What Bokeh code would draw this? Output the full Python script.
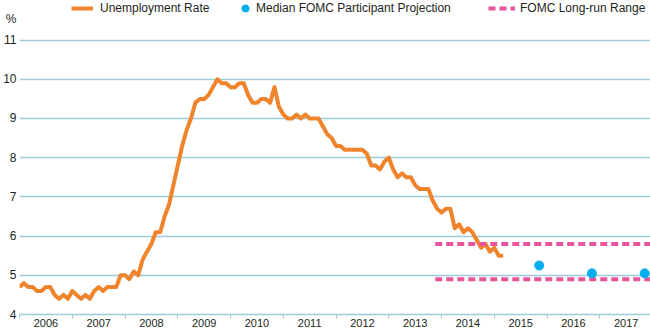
from bokeh.plotting import figure
from bokeh.models import Range1d, FixedTicker, Legend, LegendItem, ColumnDataSource
from bokeh.embed import file_html
from bokeh.resources import INLINE

# Monthly unemployment rate, Jan 2006 - Mar 2015 (%)
unemp = [
    4.7, 4.8, 4.7, 4.7, 4.6, 4.6, 4.7, 4.7, 4.5, 4.4, 4.5, 4.4,   # 2006
    4.6, 4.5, 4.4, 4.5, 4.4, 4.6, 4.7, 4.6, 4.7, 4.7, 4.7, 5.0,   # 2007
    5.0, 4.9, 5.1, 5.0, 5.4, 5.6, 5.8, 6.1, 6.1, 6.5, 6.8, 7.3,   # 2008
    7.8, 8.3, 8.7, 9.0, 9.4, 9.5, 9.5, 9.6, 9.8, 10.0, 9.9, 9.9,  # 2009
    9.8, 9.8, 9.9, 9.9, 9.6, 9.4, 9.4, 9.5, 9.5, 9.4, 9.8, 9.3,   # 2010
    9.1, 9.0, 9.0, 9.1, 9.0, 9.1, 9.0, 9.0, 9.0, 8.8, 8.6, 8.5,   # 2011
    8.3, 8.3, 8.2, 8.2, 8.2, 8.2, 8.2, 8.1, 7.8, 7.8, 7.7, 7.9,   # 2012
    8.0, 7.7, 7.5, 7.6, 7.5, 7.5, 7.3, 7.2, 7.2, 7.2, 6.9, 6.7,   # 2013
    6.6, 6.7, 6.7, 6.2, 6.3, 6.1, 6.2, 6.1, 5.9, 5.7, 5.8, 5.6,   # 2014
    5.7, 5.5, 5.5,                                                # 2015
]
start_year = 2006
months = [start_year + i / 12 for i in range(len(unemp))]

# Median FOMC participant projection (Q4 of each year)
proj_x = [2015.85, 2016.85, 2017.85]
proj_y = [5.25, 5.05, 5.05]

# FOMC long-run range
lr_x = [2013.88, 2017.96]
lr_low = 4.9
lr_high = 5.8

years = list(range(2006, 2018))
y_ticks = [4, 5, 6, 7, 8, 9, 10, 11]
unit_label_pos = 11.55   # where the "%" unit label sits on the y axis

ORANGE = "#f0842c"
CYAN = "#00aeef"
PINK = "#e8559c"
GRID = "#9ccbdc"
TEXT = "#231f20"
FONT = "Liberation Sans"

p = figure(width=650, height=330, output_backend="svg", toolbar_location=None,
           x_range=Range1d(2006, 2017.96), y_range=Range1d(4, 12.01),
           min_border_left=0, min_border_right=0, min_border_top=0, min_border_bottom=16)
p.outline_line_color = None
p.background_fill_color = "white"
p.border_fill_color = "white"

# y axis (the "%" unit label is an extra labelled tick without grid line)
p.yaxis.ticker = FixedTicker(ticks=y_ticks + [unit_label_pos])
p.yaxis.major_label_overrides = {unit_label_pos: "%"}
p.yaxis.axis_line_color = None
p.yaxis.major_tick_line_color = None
p.yaxis.minor_tick_line_color = None
p.yaxis.major_tick_out = 0
p.yaxis.major_tick_in = 0
p.yaxis.major_label_text_font = FONT
p.yaxis.major_label_text_font_size = "12px"
p.yaxis.major_label_text_color = TEXT
p.yaxis.major_label_standoff = 3
p.ygrid.ticker = FixedTicker(ticks=y_ticks)
p.ygrid.grid_line_color = GRID
p.ygrid.grid_line_width = 1.5

# x axis: labels at mid-year, minor ticks at year boundaries
p.xaxis.ticker = FixedTicker(ticks=[y + 0.5 for y in years], minor_ticks=years + [2018])
p.xaxis.major_label_overrides = {y + 0.5: str(y) for y in years}
p.xaxis.major_tick_line_color = None
p.xaxis.major_tick_out = 0
p.xaxis.major_tick_in = 0
p.xaxis.minor_tick_line_color = GRID
p.xaxis.minor_tick_out = 4
p.xaxis.minor_tick_in = 0
p.xaxis.minor_tick_line_width = 1
p.xaxis.axis_line_color = GRID
p.xaxis.axis_line_width = 1.5
p.xaxis.major_label_text_font = FONT
p.xaxis.major_label_text_font_size = "11px"
p.xaxis.major_label_text_color = TEXT
p.xaxis.major_label_standoff = 0
p.xgrid.grid_line_color = None

src = ColumnDataSource(dict(x=months, y=unemp))
r_line = p.line("x", "y", source=src, line_color=ORANGE, line_width=4, line_join="round")

r_lr = p.multi_line(xs=[lr_x, lr_x], ys=[[lr_low, lr_low], [lr_high, lr_high]],
                    line_color=PINK, line_width=4, line_dash="7 4")

r_dots = p.scatter(proj_x, proj_y, size=9, fill_color=CYAN, line_color=CYAN)

def mk_legend(label, renderer, loc, gw, gh, standoff):
    lg = Legend(items=[LegendItem(label=label, renderers=[renderer])], location=loc,
                orientation="horizontal", glyph_width=gw, glyph_height=gh,
                label_standoff=standoff, label_height=14, padding=0, margin=0,
                border_line_color=None, background_fill_alpha=0,
                label_text_font=FONT, label_text_font_size="12px",
                label_text_color=TEXT)
    p.add_layout(lg, "center")

mk_legend("Unemployment Rate", r_line, (52, 299), 22, 14, 7)
mk_legend("Median FOMC Participant Projection", r_dots, (217, 297), 18, 18, 2)
mk_legend("FOMC Long-run Range", r_lr, (469, 299), 27, 14, 5)

open("out.html", "w").write(file_html(p, INLINE))
